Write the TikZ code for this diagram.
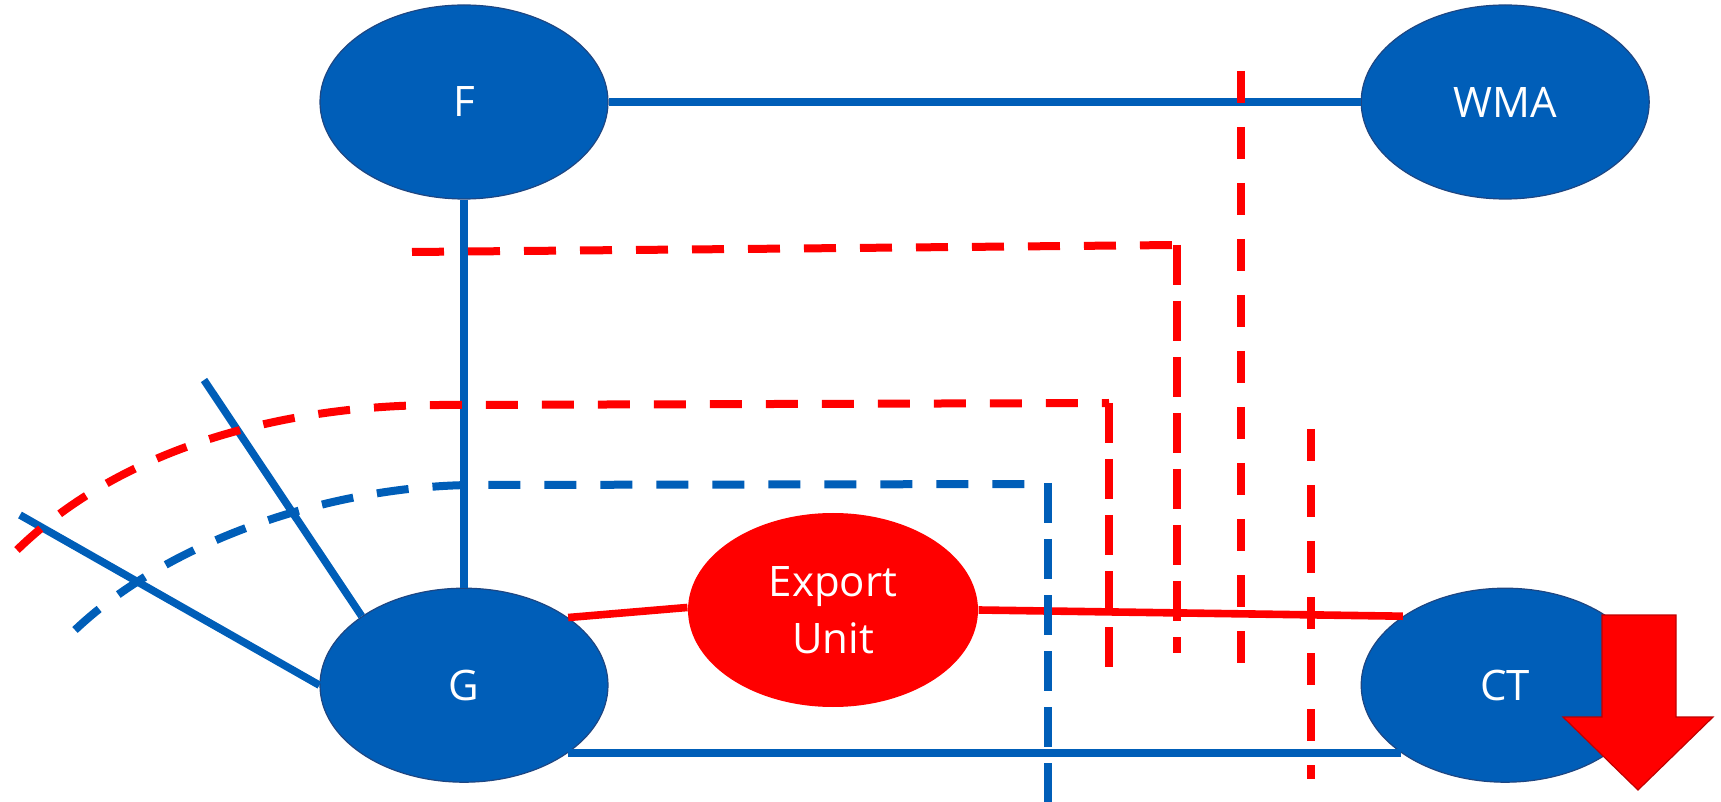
\documentclass[tikz,border=0pt]{standalone}
\usepackage{fontspec}
\setmainfont{Open Sans}
\usepackage{tikz}
\usetikzlibrary{shapes, positioning}
\definecolor{nodeblue}{RGB}{0,94,184}
\definecolor{rimblue}{RGB}{30,70,130}
\definecolor{cutred}{RGB}{255,0,0}
\definecolor{rimred}{RGB}{192,0,0}

\begin{document}
\begin{tikzpicture}[x=0.5pt, y=-0.5pt, node distance=194pt and 376pt,
		unit/.style={ellipse, fill=nodeblue, draw=rimblue, line width=0.6pt, text=white,
			minimum width=144pt, minimum height=97pt, inner sep=0pt,
			font=\fontsize{21}{28.5}\selectfont, align=center},
		link/.style={line width=3.8pt, nodeblue},
		cut/.style={line width=4pt, dash pattern=on 16pt off 12pt},
		longcut/.style={line width=4pt, dash pattern=on 20pt off 8pt}]
	\useasboundingbox (0,0) rectangle (1721,802);
	% units
	\node[unit] (F) at (464,102) {F};
	\node[unit, right =of F] (WMA) {WMA};
	\node[unit, below =of F] (G) {G};
	\node[unit, right =of G] (CT) {CT};
	\node[unit, fill=cutred, draw=none, minimum width=145pt] (EU) at (833,610) {Export\\Unit};
	\coordinate (gl) at (20,515);
	\coordinate (gu) at (204,380);
	% lines
	\foreach \from/\to in {F/WMA, F/G, G.-33/CT.-147, G.west/gl, G.146/gu}
		\draw[link] (\from) -- (\to);
	\foreach \from/\to in {G.33/EU.179, EU.0/CT.146}
		\draw[link, cutred] (\from) -- (\to);
	% cuts
	\draw[cut, cutred] (17,550) .. controls (130,440) and (300,405) .. (440,405) -- (1109,403);
	\draw[longcut, cutred] (1109,403) -- (1109,667);
	\draw[cut, cutred] (412,252) -- (1177,245);
	\draw[longcut, cutred] (1177,245) -- (1177,653);
	\draw[cut, cutred] (1241,71) -- (1241,663);
	\draw[cut, cutred] (1311,429) -- (1311,779);
	\draw[cut, nodeblue] (75,630) .. controls (170,540) and (330,487) .. (470,485) -- (1048,484);
	\draw[longcut, nodeblue] (1048,483) -- (1048,802);
	% arrow
	\draw[fill=cutred, draw=rimred, line width=0.6pt] (1602,615) -- (1676,615) -- (1676,717) -- (1713,717)
		-- (1638,790) -- (1563,717) -- (1602,717) -- cycle;
\end{tikzpicture}
\end{document}
